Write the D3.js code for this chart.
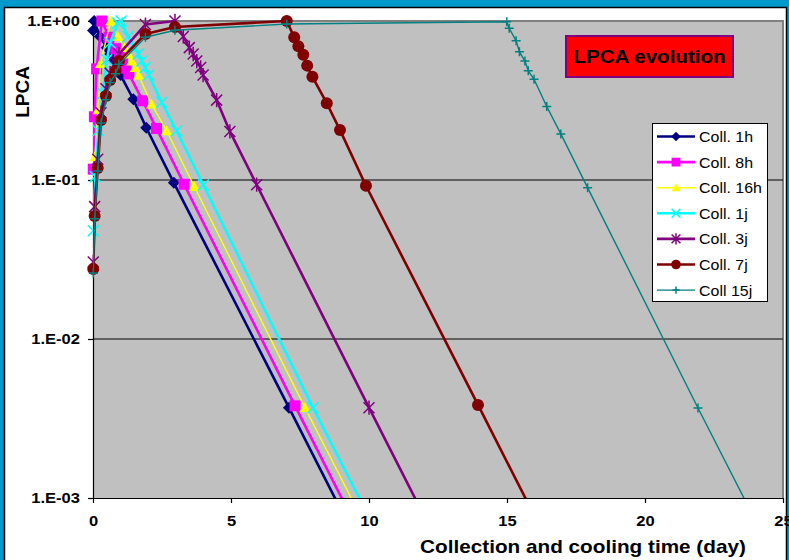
<!DOCTYPE html>
<html>
<head>
<meta charset="utf-8">
<script src="https://cdn.jsdelivr.net/npm/d3@7"></script>
<style>
body { margin: 0; padding: 0; background: #0099cc; }
svg { display: block; }
text { font-family: Arial, "Liberation Sans", sans-serif; }
</style>
</head>
<body>
<svg id="chart" width="789" height="560"></svg>
<script>
// time (day) and LPCA values for every collection
const t1h  = [0, 0.04, 0.25, 0.5, 0.63, 0.75, 0.88, 1.0, 1.46, 1.93, 2.93, 7.1, 10.1];
const v1h  = [0.87, 1.0, 0.80, 0.68, 0.62, 0.56, 0.51, 0.457, 0.322, 0.213, 0.096, 0.0037, 0.00035];
const t8h  = [0.01, 0.05, 0.13, 0.32, 0.58, 0.82, 0.95, 1.07, 1.2, 1.3, 1.8, 2.3, 3.3, 7.32, 10.3];
const v8h  = [0.117, 0.25, 0.50, 1.0, 0.79, 0.67, 0.61, 0.555, 0.505, 0.465, 0.315, 0.211, 0.094, 0.0038, 0.00036];
const t16h = [0.07, 0.18, 0.27, 0.64, 0.9, 1.15, 1.28, 1.4, 1.53, 1.65, 2.12, 2.67, 3.67, 7.68, 10.7];
const v16h = [0.14, 0.276, 0.54, 1.0, 0.80, 0.68, 0.62, 0.56, 0.51, 0.457, 0.30, 0.204, 0.091, 0.0037, 0.00035];
const t1j  = [0.01, 0.08, 0.19, 0.36, 0.5, 0.62, 0.9, 1.02, 1.27, 1.52, 1.64, 1.77, 1.89, 2.02, 2.49, 3.03, 4.0, 7.97, 11.0];
const v1j  = [0.048, 0.105, 0.205, 0.35, 0.57, 0.73, 0.97, 1.0, 0.80, 0.68, 0.62, 0.56, 0.51, 0.457, 0.308, 0.204, 0.093, 0.0037, 0.00035];
const t3j  = [0.01, 0.06, 0.17, 0.29, 0.47, 0.62, 0.82, 0.94, 1.9, 2.97, 3.27, 3.49, 3.63, 3.76, 3.9, 3.99, 4.48, 4.96, 5.93, 10.0, 13.0];
const v3j  = [0.0305, 0.068, 0.135, 0.265, 0.375, 0.47, 0.54, 0.62, 0.95, 1.0, 0.80, 0.68, 0.62, 0.56, 0.51, 0.457, 0.318, 0.202, 0.0934, 0.0037, 0.00035];
const t7j  = [0.01, 0.06, 0.17, 0.29, 0.47, 0.62, 0.82, 0.94, 1.9, 2.97, 7.02, 7.29, 7.44, 7.62, 7.76, 7.95, 8.47, 8.95, 9.89, 13.95, 17.0];
const v7j  = [0.0276, 0.0594, 0.119, 0.238, 0.338, 0.426, 0.485, 0.56, 0.828, 0.917, 1.0, 0.79, 0.693, 0.614, 0.524, 0.446, 0.304, 0.206, 0.092, 0.00385, 0.00035];
const t15j = [0.01, 0.06, 0.17, 0.29, 0.47, 0.62, 0.82, 0.94, 1.9, 2.97, 7.02, 14.99, 15.08, 15.33, 15.45, 15.65, 15.77, 15.98, 16.44, 16.95, 17.92, 21.92, 25.0];
const v15j = [0.026, 0.057, 0.114, 0.228, 0.32, 0.41, 0.465, 0.535, 0.79, 0.875, 0.957, 0.99, 0.90, 0.75, 0.64, 0.56, 0.486, 0.43, 0.29, 0.195, 0.0895, 0.00368, 0.00033];

const seriesNames = ["Coll. 1h", "Coll. 8h", "Coll. 16h", "Coll. 1j", "Coll. 3j", "Coll. 7j", "Coll 15j"];
const xTicks = [0, 5, 10, 15, 20, 25];
const yTicks = [1e-3, 1e-2, 1e-1, 1];

// look of each series
const styles = [
	{color: "#000080", marker: "diamond",  width: 2.6, size: 6},
	{color: "#ff00ff", marker: "square",   width: 2.6, size: 5.5},
	{color: "#ffff00", marker: "triangle", width: 1.4, size: 5.5},
	{color: "#00ffff", marker: "x",        width: 2.6, size: 5.5},
	{color: "#800080", marker: "star",     width: 2.6, size: 5.5},
	{color: "#800000", marker: "circle",   width: 2.6, size: 6},
	{color: "#008080", marker: "plus",     width: 1.4, size: 4.5}
];
const times = [t1h, t8h, t16h, t1j, t3j, t7j, t15j];
const vals = [v1h, v8h, v16h, v1j, v3j, v7j, v15j];

const series = seriesNames.map((name, i) => ({
	name: name,
	style: styles[i],
	points: times[i].map((t, j) => ({t: t, v: vals[i][j]}))
}));

const svg = d3.select("#chart");
const area = {left: 93, right: 783, top: 21, bottom: 498};
const STRETCH = 1.14; // texts in the picture are a bit wider than Arial

function stretch(sel, k) {
	sel.each(function() {
		const w = this.getComputedTextLength();
		d3.select(this).attr("textLength", w * k).attr("lengthAdjust", "spacingAndGlyphs");
	});
}

// blue slide background + white panel
svg.append("rect").attr("width", 789).attr("height", 560).attr("fill", "#0099cc");
svg.append("rect")
	.attr("x", 4.5).attr("y", 7.5).attr("width", 782).attr("height", 560)
	.attr("fill", "#ffffff").attr("stroke", "#000").attr("stroke-width", 1.5);

const x = d3.scaleLinear().domain([0, 25]).range([area.left, area.right]);
const y = d3.scaleLog().domain([1e-3, 1]).range([area.bottom, area.top]);

// plot area
svg.append("rect")
	.attr("x", area.left).attr("y", area.top)
	.attr("width", area.right - area.left).attr("height", area.bottom - area.top)
	.attr("fill", "#c0c0c0");
svg.append("path")
	.attr("d", `M${area.left},${area.top}H${area.right}V${area.bottom}`)
	.attr("fill", "none").attr("stroke", "#808080").attr("stroke-width", 2);

// gridlines
svg.append("g").selectAll("line")
	.data([1e-2, 1e-1])
	.enter().append("line")
	.attr("x1", area.left).attr("x2", area.right)
	.attr("y1", d => y(d)).attr("y2", d => y(d))
	.attr("stroke", "#000").attr("stroke-width", 1);

// axes
function fmt(v) {
	const e = Math.round(Math.log10(v));
	return "1.E" + (e >= 0 ? "+" : "-") + String(Math.abs(e)).padStart(2, "0");
}
const gy = svg.append("g")
	.attr("transform", `translate(${area.left},0)`)
	.call(d3.axisLeft(y).tickValues(yTicks).tickFormat(fmt).tickSize(5).tickSizeOuter(0).tickPadding(8));
const gx = svg.append("g")
	.attr("transform", `translate(0,${area.bottom})`)
	.call(d3.axisBottom(x).tickValues(xTicks).tickFormat(d3.format("d")).tickSize(5).tickSizeOuter(0).tickPadding(13));
[gy, gx].forEach(g => {
	g.select(".domain").attr("stroke", "#000").attr("stroke-width", 1.2);
	g.selectAll(".tick line").attr("stroke", "#000").attr("stroke-width", 1.2);
	g.selectAll(".tick text")
		.attr("font-family", "Arial, 'Liberation Sans', sans-serif")
		.attr("font-size", 14.5).attr("font-weight", "bold").attr("fill", "#000")
		.call(stretch, STRETCH);
});

// axis titles
svg.append("text")
	.attr("transform", "translate(29,92) rotate(-90)")
	.attr("text-anchor", "middle")
	.attr("font-size", 19).attr("font-weight", "bold")
	.text("LPCA");
svg.append("text")
	.attr("x", 583).attr("y", 553)
	.attr("text-anchor", "middle")
	.attr("font-size", 18.5).attr("font-weight", "bold")
	.text("Collection and cooling time (day)")
	.call(stretch, 1.12);

// marker shapes
function markerPath(type, s) {
	switch (type) {
		case "diamond": return `M0,${-s}L${s},0L0,${s}L${-s},0Z`;
		case "square": return `M${-s},${-s}H${s}V${s}H${-s}Z`;
		case "triangle": return `M0,${-s}L${s},${s * 0.8}L${-s},${s * 0.8}Z`;
		case "x": return `M${-s},${-s}L${s},${s}M${-s},${s}L${s},${-s}`;
		case "star": return `M${-s},${-s}L${s},${s}M${-s},${s}L${s},${-s}M0,${-s * 1.3}V${s * 1.3}`;
		case "plus": return `M${-s},0H${s}M0,${-s}V${s}`;
		case "circle": return `M${s},0A${s},${s} 0 1,1 ${-s},0A${s},${s} 0 1,1 ${s},0Z`;
	}
}
const filled = {diamond: true, square: true, triangle: true, circle: true};

function drawMarker(g, st, size) {
	const p = g.append("path").attr("d", markerPath(st.marker, size));
	if (filled[st.marker]) p.attr("fill", st.color).attr("stroke", "none");
	else p.attr("fill", "none").attr("stroke", st.color).attr("stroke-width", 1.5);
}

// lines are clipped to the plot area
svg.append("clipPath").attr("id", "plotClip")
	.append("rect")
	.attr("x", area.left).attr("y", area.top - 3)
	.attr("width", area.right - area.left).attr("height", area.bottom - area.top + 3);

const line = d3.line().x(d => x(d.t)).y(d => y(d.v));

series.forEach(s => {
	const g = svg.append("g");
	g.append("path")
		.datum(s.points)
		.attr("d", line)
		.attr("clip-path", "url(#plotClip)")
		.attr("fill", "none")
		.attr("stroke", s.style.color)
		.attr("stroke-width", s.style.width)
		.attr("stroke-linejoin", "round");
	s.points.filter(d => d.v >= 1e-3 && d.t <= 25).forEach(d => {
		const m = g.append("g").attr("transform", `translate(${x(d.t)},${y(d.v)})`);
		drawMarker(m, s.style, s.style.size);
	});
});

// chart title box
svg.append("rect")
	.attr("x", 566).attr("y", 36).attr("width", 167).attr("height", 41)
	.attr("fill", "#ff0000").attr("stroke", "#800080").attr("stroke-width", 2);
svg.append("text")
	.attr("x", 649.5).attr("y", 63)
	.attr("text-anchor", "middle")
	.attr("font-size", 18.5).attr("font-weight", "bold")
	.text("LPCA evolution")
	.call(stretch, 1.11);

// legend
const legend = svg.append("g");
legend.append("rect")
	.attr("x", 652.5).attr("y", 123.5).attr("width", 115).attr("height", 178)
	.attr("fill", "#fff").attr("stroke", "#000").attr("stroke-width", 1);
series.forEach((s, i) => {
	const yy = 136.5 + i * 25.6;
	const item = legend.append("g").attr("transform", `translate(0,${yy})`);
	item.append("line")
		.attr("x1", 657).attr("x2", 695)
		.attr("stroke", s.style.color)
		.attr("stroke-width", s.style.width);
	const m = item.append("g").attr("transform", "translate(676,0)");
	drawMarker(m, s.style, s.style.size * 0.8);
	item.append("text")
		.attr("x", 699).attr("y", 5.5)
		.attr("font-size", 14.5)
		.text(s.name)
		.call(stretch, 1.1);
});
</script>
</body>
</html>
